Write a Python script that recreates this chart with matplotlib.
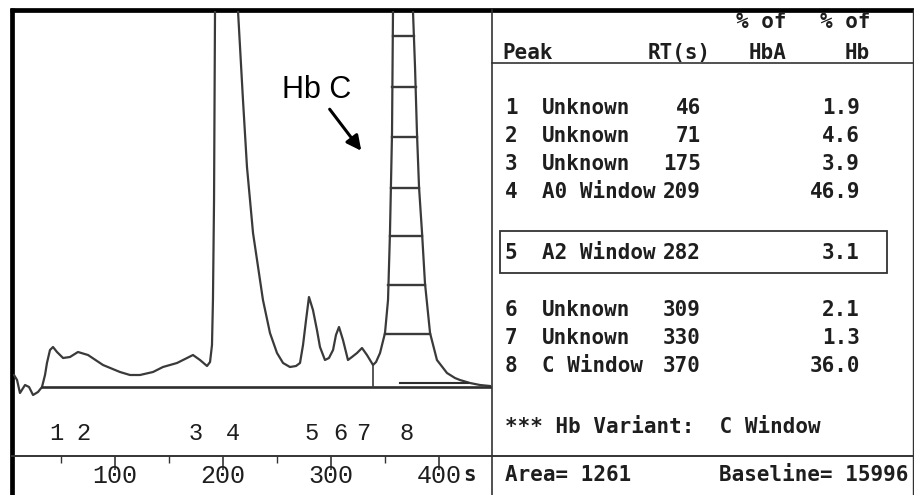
import matplotlib
matplotlib.use('Agg')
import matplotlib.pyplot as plt
from matplotlib.patches import Rectangle
import numpy as np

# chromatogram trace: time (s) and signal (arb. units, 0 = baseline)
trace_t = [6.5, 9.3, 12.0, 16.7, 20.4, 24.1, 28.7, 32.4, 35.2, 37.0, 39.8, 42.6, 46.3,
           51.9, 58.3, 65.7, 75.0, 88.9, 104.6, 113.9, 123.1, 135.2, 144.4, 157.4, 166.7,
           172.2, 178.7, 185.2, 188.0, 189.8, 190.7, 191.7, 192.6, 202.8, 213.9, 218.5,
           222.2, 227.8, 237.0, 243.5, 250.0, 255.6, 262.0, 267.6, 271.3, 274.1, 276.9,
           279.6, 283.3, 287.0, 289.8, 294.4, 298.1, 301.9, 304.6, 307.4, 311.1, 315.7,
           319.4, 324.1, 328.7, 333.3, 338.9, 341.7, 345.4, 350.0, 352.8, 354.6, 356.5,
           357.4, 366.7, 375.9, 377.8, 379.6, 381.5, 384.3, 387.0, 391.7, 398.1, 407.4,
           414.8, 419.4, 428.7, 437.9, 447.2]
trace_s = [12, 7, -6, 2, 0, -8, -5, 0, 12, 24, 37, 40, 35,
           29, 30, 35, 32, 22, 15, 12, 12, 15, 20, 24, 29,
           32, 27, 21, 25, 42, 87, 187, 376, 800, 376, 287,
           220, 154, 87, 54, 34, 24, 20, 21, 24, 42, 67,
           90, 77, 57, 40, 27, 29, 37, 52, 60, 47, 27,
           30, 34, 39, 32, 22, 25, 34, 54, 87, 154, 254,
           376, 500, 376, 320, 254, 200, 154, 104, 54, 27, 14,
           9, 7, 4, 2, 1]

peak_ids = [1, 2, 3, 4, 5, 6, 7, 8]
peak_names = ['Unknown', 'Unknown', 'Unknown', 'A0 Window', 'A2 Window',
              'Unknown', 'Unknown', 'C Window']
peak_rt = [46, 71, 175, 209, 282, 309, 330, 370]
peak_pct = [1.9, 4.6, 3.9, 46.9, 3.1, 2.1, 1.3, 36.0]
ladder_levels = [53, 102, 151, 199, 250, 300, 351]
c_split = 338.9      # valley where peak 8 integration starts
c_apex = 366.7
area = 1261
baseline_value = 15996
variant = 'C Window'

W, H = 914, 495
x0, px_per_s = 7, 1.08          # time axis placement in pixels
ink = '#1e1e1e'
trace_col = '#3a3a3a'

fig = plt.figure(figsize=(W / 100, H / 100), dpi=100)
fig.patch.set_facecolor('white')

# pixel-space frame for the printout borders and the report table
fr = fig.add_axes([0, 0, 1, 1])
fr.set_xlim(0, W)
fr.set_ylim(H, 0)
fr.axis('off')

fr.plot([10, W], [9.5, 9.5], color='black', lw=3.4, solid_capstyle='butt')
fr.plot([12, 12], [8, H], color='black', lw=3.4, solid_capstyle='butt')
fr.plot([912.5, 912.5], [10, H], color='#333333', lw=1.0)
fr.plot([492, 492], [10, H], color='#333333', lw=1.2)
fr.plot([492, W], [63, 63], color='#333333', lw=1.2)
fr.plot([12, W], [455.5, 455.5], color='#333333', lw=1.4)

mono = dict(family='DejaVu Sans Mono', fontweight='bold', fontsize=15, color=ink)
fr.text(502, 53, 'Peak', ha='left', va='center', **mono)
fr.text(711, 53, 'RT(s)', ha='right', va='center', **mono)
fr.text(786, 22, '% of', ha='right', va='center', **mono)
fr.text(786, 53, 'HbA', ha='right', va='center', **mono)
fr.text(870, 22, '% of', ha='right', va='center', **mono)
fr.text(870, 53, 'Hb', ha='right', va='center', **mono)

row_y = [108, 136, 164, 192, 253, 310, 338, 366]
for pid, name, rt, pct, y in zip(peak_ids, peak_names, peak_rt, peak_pct, row_y):
    fr.text(505, y, str(pid), ha='left', va='center', **mono)
    fr.text(542, y, name, ha='left', va='center', **mono)
    fr.text(701, y, str(rt), ha='right', va='center', **mono)
    fr.text(860, y, '%.1f' % pct, ha='right', va='center', **mono)

fr.add_patch(Rectangle((500, 231), 387, 42, fill=False, ec='#333333', lw=1.3))
fr.text(505, 427, '*** Hb Variant:  ' + variant, ha='left', va='center', **mono)
fr.text(505, 475, 'Area= %d' % area, ha='left', va='center', **mono)
fr.text(908, 475, 'Baseline= %d' % baseline_value, ha='right', va='center', **mono)
fr.text(470, 475, 's', ha='center', va='center', **mono)

# chromatogram axes, aligned to the printout
ax = fig.add_axes([13 / W, (H - 456) / H, (492 - 13) / W, (456 - 11) / H])
ax.set_facecolor('none')
ax.set_xlim((13 - x0) / px_per_s, (492 - x0) / px_per_s)
ax.set_ylim(-69, 376)
for sp in ax.spines.values():
    sp.set_visible(False)
ax.set_yticks([])
ax.set_xticks([100, 200, 300, 400])
ax.set_xticks([50, 150, 250, 350], minor=True)
ax.tick_params(axis='x', which='major', length=10, width=1.2, color='#333333',
               labelsize=18, labelcolor=ink, labelfontfamily='Liberation Mono', pad=-4)
ax.tick_params(axis='x', which='minor', length=5, width=1.0, color='#333333')

t = np.array(trace_t)
s = np.array(trace_s, dtype=float)
ax.plot(t, s, color=trace_col, lw=1.6)

# baselines and peak split
ax.plot([32.4, t[-1]], [0, 0], color='#2e2e2e', lw=1.9)
ax.plot([364, 427], [4, 4], color='#2e2e2e', lw=1.5)
ax.plot([c_split, c_split], [0, np.interp(c_split, t, s)], color=trace_col, lw=1.2)

# width ladder across the Hb C peak
rise = (t >= c_split) & (t <= c_apex)
fall = t >= c_apex
for lev in ladder_levels:
    left = np.interp(lev, s[rise], t[rise])
    right = np.interp(lev, s[fall][::-1], t[fall][::-1])
    ax.plot([left, right], [lev, lev], color=trace_col, lw=1.7)

for pid, rt in zip(peak_ids, peak_rt):
    ax.text(rt, -46, str(pid), ha='center', va='center', fontsize=17,
            family='Liberation Mono', color=ink)

ax.text(287, 289, 'Hb C', ha='center', va='baseline', fontsize=22,
        family='Liberation Sans', color='black')
ax.annotate('', xy=(329.6, 234), xytext=(297.2, 280),
            arrowprops=dict(arrowstyle='-|>', lw=2.2, color='black', mutation_scale=22))

fig.savefig('out.png', dpi=100, facecolor='white')
plt.close(fig)
